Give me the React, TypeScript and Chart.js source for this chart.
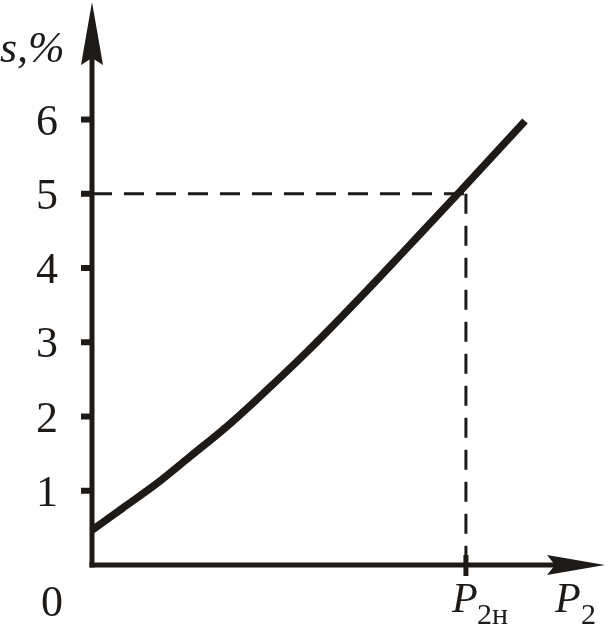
import React, { useEffect, useRef } from "react";
import { Chart, registerables } from "chart.js";

Chart.register(...registerables);

// Data (x in units of rated power P2н, y in %)
const p2Values = [0, 0.083, 0.174, 0.262, 0.35, 0.43, 0.583, 0.717, 0.85, 0.984, 1.158];
const slipValues = [0.47, 0.77, 1.1, 1.46, 1.82, 2.18, 2.91, 3.6, 4.31, 5.03, 5.98];
const yTickValues = [1, 2, 3, 4, 5, 6];
const yTickLabels = ["1", "2", "3", "4", "5", "6"];
const ratedP2 = 1;
const ratedSlip = 5;
const X_MAX = 1.396;
const Y_MAX = 7.61;

const SERIF = '"Liberation Serif", "Times New Roman", serif';

const axesPlugin = {
  id: "handAxes",
  beforeDatasetsDraw(chart: any) {
    const ctx = chart.ctx as CanvasRenderingContext2D;
    const xs = chart.scales.x;
    const ys = chart.scales.y;
    const x0 = xs.getPixelForValue(0);
    const y0 = ys.getPixelForValue(0);
    const yTop = ys.getPixelForValue(Y_MAX) + 2;
    const xRight = xs.getPixelForValue(X_MAX) - 9;
    ctx.save();
    ctx.strokeStyle = "#1e1a17";
    ctx.fillStyle = "#1e1a17";
    ctx.lineCap = "butt";

    // y axis
    ctx.lineWidth = 5;
    ctx.beginPath();
    ctx.moveTo(x0, y0 + 2.5);
    ctx.lineTo(x0, yTop + 50);
    ctx.stroke();
    // y arrow head
    ctx.beginPath();
    ctx.moveTo(x0, yTop);
    ctx.lineTo(x0 + 11, yTop + 63);
    ctx.lineTo(x0, yTop + 56);
    ctx.lineTo(x0 - 11, yTop + 63);
    ctx.closePath();
    ctx.fill();

    // x axis
    ctx.beginPath();
    ctx.moveTo(x0 - 2.5, y0);
    ctx.lineTo(xRight - 50, y0);
    ctx.stroke();
    ctx.beginPath();
    ctx.moveTo(xRight, y0);
    ctx.lineTo(xRight - 58, y0 - 10);
    ctx.lineTo(xRight - 50, y0);
    ctx.lineTo(xRight - 58, y0 + 10);
    ctx.closePath();
    ctx.fill();

    // y ticks and labels
    ctx.lineWidth = 6;
    ctx.font = "44px " + SERIF;
    ctx.textAlign = "center";
    ctx.textBaseline = "alphabetic";
    yTickValues.forEach((v, i) => {
      const py = ys.getPixelForValue(v);
      ctx.beginPath();
      ctx.moveTo(x0 - 11, py);
      ctx.lineTo(x0, py);
      ctx.stroke();
      ctx.fillText(yTickLabels[i], x0 - 45, py + 15);
    });
    ctx.fillText("0", x0 - 40, y0 + 51);

    // rated power tick on x axis
    const px = xs.getPixelForValue(ratedP2);
    ctx.lineWidth = 5;
    ctx.beginPath();
    ctx.moveTo(px, y0 - 10);
    ctx.lineTo(px, y0 + 11);
    ctx.stroke();

    // axis titles
    ctx.textAlign = "left";
    ctx.font = "italic 44px " + SERIF;
    ctx.fillText("s,%", 0, 62);

    ctx.font = "italic 42px " + SERIF;
    ctx.fillText("P", px - 14, 612);
    ctx.font = "30px " + SERIF;
    ctx.fillText("2н", px + 11, 624);

    ctx.font = "italic 42px " + SERIF;
    ctx.fillText("P", 555, 612);
    ctx.font = "30px " + SERIF;
    ctx.fillText("2", 581, 624);

    ctx.restore();
  },
};

export default function App() {
  const ref = useRef<HTMLCanvasElement | null>(null);
  useEffect(() => {
    if (!ref.current) return;
    const chart = new Chart(ref.current, {
      type: "line",
      data: {
        datasets: [
          {
            label: "s",
            data: p2Values.map((x, i) => ({ x, y: slipValues[i] })),
            borderColor: "#1e1a17",
            borderWidth: 7.5,
            borderCapStyle: "butt",
            pointRadius: 0,
            cubicInterpolationMode: "monotone",
            clip: false as any,
          },
          {
            label: "rated-h",
            data: [
              { x: 0, y: ratedSlip },
              { x: ratedP2, y: ratedSlip },
            ],
            borderColor: "#1e1a17",
            borderWidth: 3,
            borderDash: [20, 12],
            pointRadius: 0,
          },
          {
            label: "rated-v",
            data: [
              { x: ratedP2, y: ratedSlip },
              { x: ratedP2, y: 0 },
            ],
            borderColor: "#1e1a17",
            borderWidth: 3,
            borderDash: [20, 12],
            pointRadius: 0,
          },
        ],
      },
      options: {
        responsive: false,
        animation: false,
        layout: { padding: { left: 92, right: 0, top: 0, bottom: 63 } },
        scales: {
          x: { type: "linear", min: 0, max: X_MAX, display: false },
          y: { type: "linear", min: 0, max: Y_MAX, display: false },
        },
        plugins: {
          legend: { display: false },
          tooltip: { enabled: false },
        },
      },
      plugins: [axesPlugin],
    });
    return () => chart.destroy();
  }, []);
  return (
    <div style={{ position: "fixed", left: 0, top: 0, width: 614, height: 628, background: "#fff" }}>
      <canvas ref={ref} width={614} height={628} style={{ width: 614, height: 628 }} />
    </div>
  );
}
